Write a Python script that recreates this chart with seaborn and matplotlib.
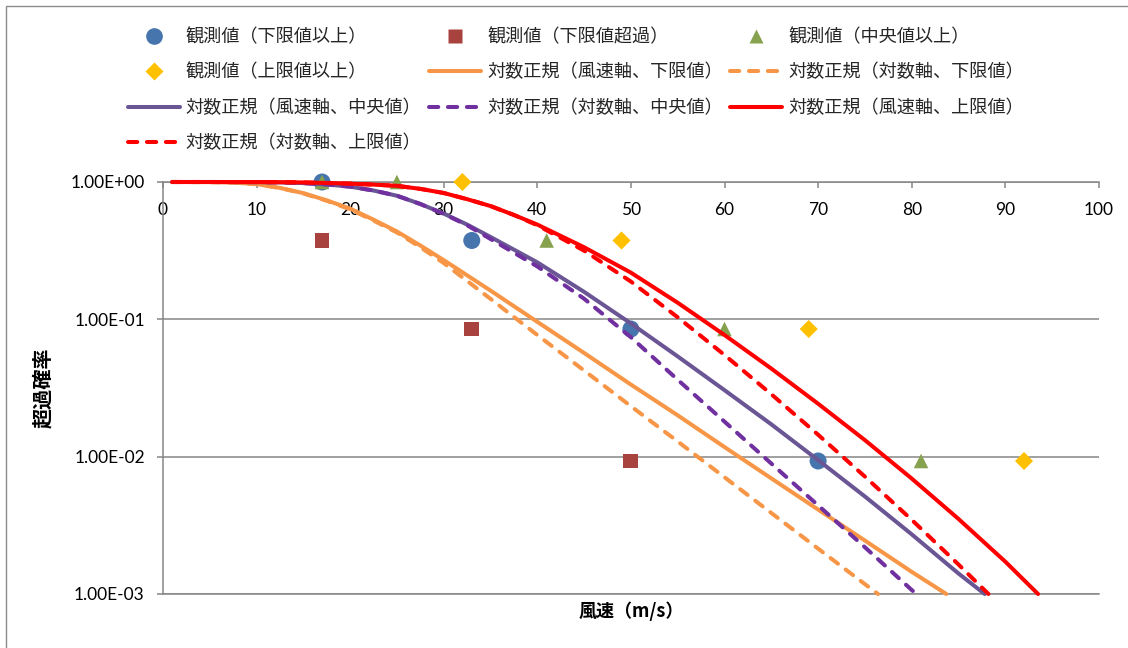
import matplotlib
matplotlib.use("Agg")
import matplotlib.pyplot as plt
import numpy as np
import pandas as pd
import seaborn as sns
from matplotlib.ticker import FixedLocator, FuncFormatter, NullLocator
from matplotlib.lines import Line2D
from matplotlib.patches import Rectangle
from matplotlib.font_manager import FontProperties

# ---- observed exceedance points ----
obs_lo_x = [17, 33, 50, 70]
obs_lo_y = [1.0, 0.375, 0.085, 0.0093]
obs_over_x = [17, 33, 50]
obs_over_y = [0.375, 0.085, 0.0093]
obs_mid_x = [17, 25, 41, 60, 81]
obs_mid_y = [1.0, 1.0, 0.375, 0.085, 0.0093]
obs_hi_x = [32, 49, 69, 92]
obs_hi_y = [1.0, 0.375, 0.085, 0.0093]

# ---- fitted log-normal exceedance curves ----
ws_lo_x = [1, 5, 7.5, 10, 12.5, 15, 17.5, 20, 22.5, 25, 27.5, 30, 35, 40, 45, 50, 55, 60,
           65, 70, 75, 80, 83.7]
ws_lo_y = [1.0, 0.9989, 0.9908, 0.966, 0.906, 0.830, 0.735, 0.640, 0.532, 0.436, 0.345,
           0.270, 0.162, 0.0959, 0.0569, 0.0335, 0.0200, 0.01175, 0.00695, 0.00412,
           0.00245, 0.00145, 0.001]
lg_lo_x = [1, 5, 7.5, 10, 12.5, 15, 17.5, 20, 22.5, 25, 27.5, 30, 35, 40, 45, 50, 55, 60,
           65, 70, 75, 76.4]
lg_lo_y = [1.0, 0.9989, 0.9908, 0.964, 0.904, 0.826, 0.730, 0.632, 0.524, 0.429, 0.335,
           0.257, 0.141, 0.0769, 0.0424, 0.0233, 0.0129, 0.00708, 0.00389, 0.00214,
           0.00118, 0.001]
ws_mid_x = [1, 5, 10, 12.5, 15, 17.5, 20, 22.5, 25, 27.5, 30, 32.5, 35, 40, 45, 50, 55, 60,
            65, 70, 75, 80, 85, 87.8]
ws_mid_y = [1.0, 1.0, 0.9977, 0.9931, 0.9817, 0.9594, 0.9247, 0.8670, 0.7943, 0.6918,
            0.5888, 0.4898, 0.3981, 0.2600, 0.1585, 0.0933, 0.0537, 0.0305, 0.0172,
            0.00944, 0.00513, 0.00272, 0.00141, 0.001]
lg_mid_x = [1, 5, 10, 12.5, 15, 17.5, 20, 22.5, 25, 27.5, 30, 32.5, 35, 40, 45, 50, 55, 60,
            65, 70, 75, 80, 80.5]
lg_mid_y = [1.0, 1.0, 0.9977, 0.9931, 0.9817, 0.9594, 0.9247, 0.8670, 0.7943, 0.6918,
            0.5861, 0.4842, 0.3846, 0.2427, 0.1413, 0.0741, 0.0363, 0.0180, 0.00891,
            0.00442, 0.00219, 0.00107, 0.001]
ws_hi_x = [1, 5, 10, 15, 17.5, 20, 22.5, 25, 27.5, 30, 32.5, 35, 37.5, 40, 45, 50, 55, 60,
           65, 70, 75, 80, 85, 90, 93.5]
ws_hi_y = [1.0, 1.0, 0.9995, 0.9931, 0.9840, 0.9727, 0.9572, 0.9376, 0.8913, 0.8318,
           0.7499, 0.6683, 0.5754, 0.4898, 0.3350, 0.2188, 0.1321, 0.0769, 0.0438,
           0.0243, 0.0132, 0.00693, 0.00352, 0.00172, 0.001]
lg_hi_x = [1, 5, 10, 15, 17.5, 20, 22.5, 25, 27.5, 30, 32.5, 35, 37.5, 40, 45, 50, 55, 60,
           65, 70, 75, 80, 85, 88.2]
lg_hi_y = [1.0, 1.0, 0.9995, 0.9931, 0.9840, 0.9727, 0.9572, 0.9376, 0.8913, 0.8318,
           0.7499, 0.6683, 0.5754, 0.4842, 0.3162, 0.1884, 0.1035, 0.0550, 0.0285,
           0.01445, 0.00716, 0.00347, 0.00164, 0.001]

labels = [
    "観測値（下限値以上）", "観測値（下限値超過）", "観測値（中央値以上）",
    "観測値（上限値以上）", "対数正規（風速軸、下限値）", "対数正規（対数軸、下限値）",
    "対数正規（風速軸、中央値）", "対数正規（対数軸、中央値）", "対数正規（風速軸、上限値）",
    "対数正規（対数軸、上限値）",
]
y_ticks = [1e-3, 1e-2, 1e-1, 1.0]
x_ticks = list(range(0, 101, 10))

sns.set_theme(style="white")
plt.rcParams["font.family"] = ["Lato", "Noto Sans CJK JP", "DejaVu Sans"]
JP = ["Noto Sans CJK JP", "DejaVu Sans"]
GRID = "#868686"

W, H = 1128, 648
fig = plt.figure(figsize=(W / 100, H / 100), dpi=100)
x0, x1, yt, yb = 162.9, 1098.9, 182.0, 594.0
ax = fig.add_axes([x0 / W, 1 - yb / H, (x1 - x0) / W, (yb - yt) / H])

# chart-area frame
fig.patches.append(Rectangle((5.5 / W, -0.2), 1.5, 1.2 - 5.5 / H, transform=fig.transFigure,
                             fill=False, ec="#8c8c8c", lw=1.0))

# markers
markers = [
    (obs_lo_x, obs_lo_y, "o", 150, "#4675AE"),
    (obs_over_x, obs_over_y, "s", 115, "#A8423F"),
    (obs_mid_x, obs_mid_y, "^", 110, "#87A24F"),
    (obs_hi_x, obs_hi_y, "D", 85, "#FFC000"),
]
for mx, my, mk, sz, col in markers:
    sns.scatterplot(x=mx, y=my, marker=mk, s=sz, color=col, edgecolor="none",
                    ax=ax, zorder=3, clip_on=False, legend=False)

# curves
DASH = (2.3, 2.4)
curves = [
    (ws_lo_x, ws_lo_y, "#F79646", None),
    (lg_lo_x, lg_lo_y, "#F79646", DASH),
    (ws_mid_x, ws_mid_y, "#6A5595", None),
    (lg_mid_x, lg_mid_y, "#7030A0", DASH),
    (ws_hi_x, ws_hi_y, "#FF0000", None),
    (lg_hi_x, lg_hi_y, "#FF0000", DASH),
]
LW = 2.9
for cx, cy, col, dash in curves:
    df = pd.DataFrame({"x": cx, "y": cy})
    sns.lineplot(data=df, x="x", y="y", color=col, linewidth=LW, ax=ax,
                 estimator=None, sort=False, zorder=4)
    ln = ax.lines[-1]
    ln.set_clip_on(False)
    ln.set_solid_joinstyle("round")
    if dash is not None:
        ln.set_dashes(dash)
        ln.set_dash_capstyle("round")

ax.set_yscale("log")
ax.set_xlim(0, 100)
ax.set_ylim(1e-3, 1.0)
ax.yaxis.set_major_locator(FixedLocator(y_ticks))
ax.yaxis.set_minor_locator(NullLocator())
ax.yaxis.set_major_formatter(FuncFormatter(lambda v, p: f"{v:.2E}"))
ax.xaxis.set_major_locator(FixedLocator(x_ticks))
ax.xaxis.set_minor_locator(NullLocator())

ax.grid(axis="y", color=GRID, lw=1.1, zorder=0)
ax.grid(axis="x", visible=False)
ax.set_axisbelow(True)
for side in ("left", "top", "bottom"):
    ax.spines[side].set_color(GRID)
    ax.spines[side].set_linewidth(1.1)
ax.spines["right"].set_visible(False)

ax.xaxis.tick_top()
ax.tick_params(axis="x", which="major", top=True, bottom=False, labeltop=True,
               labelbottom=False, direction="in", length=4, width=1.1, color=GRID,
               labelsize=12.5, labelcolor="black", pad=-26)
ax.tick_params(axis="y", which="major", left=True, direction="out", length=4, width=1.1,
               color=GRID, labelsize=12.5, labelcolor="black", pad=9)

ax.set_xlabel("風速（m/s）", family=JP, fontsize=13, fontweight="bold", color="black")
ax.xaxis.set_label_position("bottom")
ax.xaxis.set_label_coords(0.5, -0.018)
ax.set_ylabel("超過確率", family=JP, fontsize=14.5, fontweight="bold", color="black")
ax.yaxis.set_label_coords((53 - x0) / (x1 - x0), 0.5)

# legend (row-major order across three columns)
handles = [
    Line2D([], [], ls="none", marker="o", ms=12, color="#4675AE", mec="none"),
    Line2D([], [], ls="none", marker="s", ms=10.5, color="#A8423F", mec="none"),
    Line2D([], [], ls="none", marker="^", ms=10.5, color="#87A24F", mec="none"),
    Line2D([], [], ls="none", marker="D", ms=9, color="#FFC000", mec="none"),
]
for cx, cy, col, dash in curves:
    h = Line2D([], [], color=col, lw=LW)
    if dash is not None:
        h.set_dashes(dash)
        h.set_dash_capstyle("round")
    handles.append(h)
order = [0, 3, 6, 9, 1, 4, 7, 2, 5, 8]
leg = fig.legend([handles[i] for i in order], [labels[i] for i in order], ncols=3,
                 loc="upper left", bbox_to_anchor=(128 / W, 1 - 28 / H), frameon=False,
                 prop=FontProperties(family=JP, size=13.1), handlelength=2.85,
                 handletextpad=0.33, columnspacing=0.42, labelspacing=0.96,
                 borderpad=0, borderaxespad=0)

fig.savefig("out.png", dpi=100, facecolor="white")
